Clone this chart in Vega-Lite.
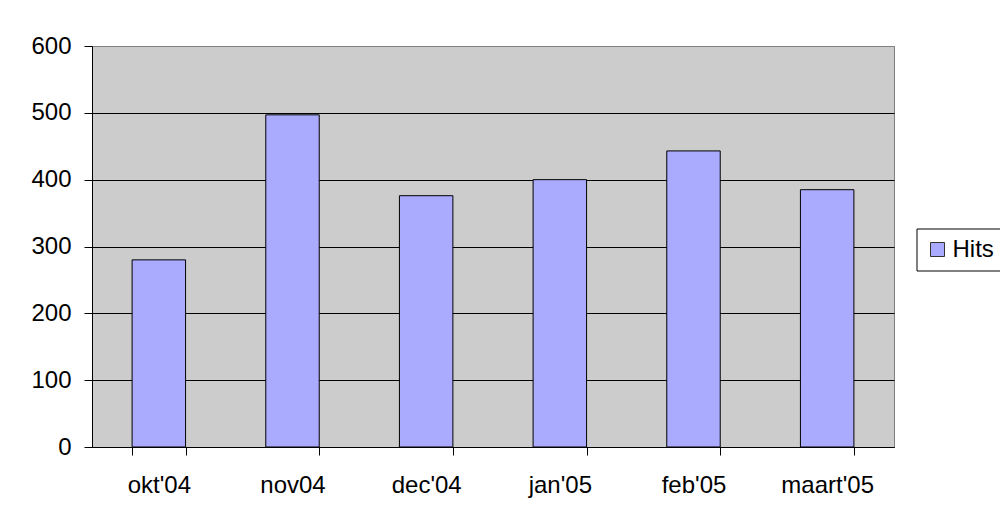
{
  "$schema": "https://vega.github.io/schema/vega-lite/v6.json",
  "width": 802,
  "height": 401,
  "autosize": {"type": "none"},
  "padding": {"left": 92, "top": 46, "right": 106, "bottom": 80},
  "background": "white",
  "data": {
    "values": [
      {"month": "okt'04", "hits": 280, "series": "Hits"},
      {"month": "nov04", "hits": 497, "series": "Hits"},
      {"month": "dec'04", "hits": 376, "series": "Hits"},
      {"month": "jan'05", "hits": 400, "series": "Hits"},
      {"month": "feb'05", "hits": 443, "series": "Hits"},
      {"month": "maart'05", "hits": 385, "series": "Hits"}
    ]
  },
  "mark": {"type": "bar", "stroke": "black", "strokeWidth": 1},
  "encoding": {
    "x": {
      "field": "month",
      "type": "nominal",
      "sort": null,
      "title": null,
      "scale": {"paddingInner": 0.6, "paddingOuter": 0.3},
      "axis": {
        "labelAngle": 0,
        "tickBand": "extent",
        "tickSize": 8,
        "tickColor": "black",
        "domainColor": "black",
        "labelFontSize": 24,
        "labelFont": "Liberation Sans",
        "labelColor": "black",
        "labelPadding": 18,
        "grid": false
      }
    },
    "y": {
      "field": "hits",
      "type": "quantitative",
      "title": null,
      "scale": {"domain": [0, 600], "nice": false},
      "axis": {
        "values": [0, 100, 200, 300, 400, 500, 600],
        "grid": true,
        "gridColor": {"condition": {"test": "datum.value == 600", "value": "#808080"}, "value": "black"},
        "gridOpacity": 1,
        "tickSize": 8,
        "tickColor": "black",
        "domainColor": "black",
        "labelFontSize": 24,
        "labelFont": "Liberation Sans",
        "labelColor": "black",
        "labelPadding": 13
      }
    },
    "color": {
      "field": "series",
      "type": "nominal",
      "scale": {"range": ["#AAAAFF"]},
      "legend": {
        "title": null,
        "orient": "none",
        "legendX": 824.5,
        "legendY": 182.5,
        "strokeColor": "black",
        "fillColor": "white",
        "padding": 9,
        "symbolType": "square",
        "symbolSize": 196,
        "symbolStrokeColor": "#333333",
        "symbolStrokeWidth": 1,
        "symbolOpacity": 1,
        "labelFontSize": 24,
        "labelFont": "Liberation Sans",
        "labelColor": "black",
        "labelOffset": 3
      }
    }
  },
  "config": {
    "view": {"fill": "#CCCCCC", "stroke": "#808080"}
  }
}
